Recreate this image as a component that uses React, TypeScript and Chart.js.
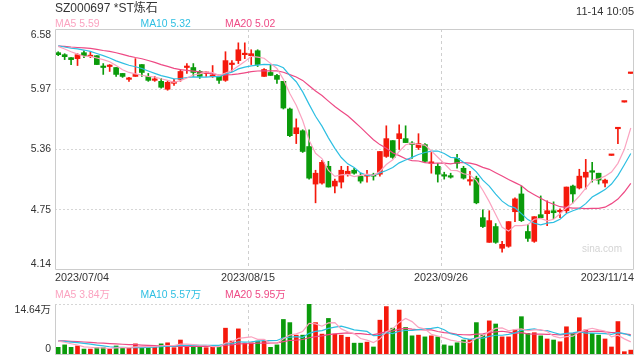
import React, { useEffect, useRef } from 'react';
import { Chart, registerables } from 'chart.js';

Chart.register(...registerables);

// ---- data ----
const dateLabels = ['2023/07/04', '2023/08/15', '2023/09/26', '2023/11/14'];

const opens = [
  6.34, 6.32, 6.29, 6.28, 6.34, 6.30, 6.31, 6.20, 6.20, 6.19,
  6.13, 6.07, 6.10, 6.22, 6.10, 6.06, 6.05, 5.97, 6.03, 6.07,
  6.19, 6.19, 6.15, 6.13, 6.10, 6.10, 6.06, 6.22, 6.26, 6.32,
  6.31, 6.36, 6.10, 6.14, 6.11, 6.05, 5.77, 5.52, 5.55, 5.39,
  5.01, 5.02, 5.19, 4.99, 5.03, 5.11, 5.15, 5.09, 5.09, 5.10,
  5.11, 5.29, 5.45, 5.47, 5.47, 5.42, 5.38, 5.41, 5.22, 5.19,
  5.10, 5.09, 5.27, 5.17, 5.04, 5.07, 4.67, 4.42, 4.58, 4.36,
  4.38, 4.73, 4.91, 4.53, 4.43, 4.70, 4.71, 4.74, 4.73, 4.74,
  4.99, 4.97, 5.08, 5.14, 5.12, 5.02, 5.30, 5.57, 5.84, 6.13,
];
const highs = [
  6.35, 6.33, 6.29, 6.33, 6.36, 6.35, 6.31, 6.23, 6.22, 6.19,
  6.13, 6.09, 6.28, 6.22, 6.13, 6.10, 6.08, 6.05, 6.07, 6.17,
  6.23, 6.23, 6.16, 6.15, 6.21, 6.10, 6.35, 6.26, 6.44, 6.44,
  6.37, 6.37, 6.18, 6.22, 6.12, 6.05, 5.78, 5.67, 5.56, 5.56,
  5.15, 5.25, 5.24, 5.06, 5.19, 5.19, 5.17, 5.12, 5.15, 5.12,
  5.34, 5.60, 5.45, 5.61, 5.60, 5.44, 5.52, 5.42, 5.33, 5.22,
  5.13, 5.12, 5.31, 5.19, 5.14, 5.09, 4.75, 4.74, 4.61, 4.43,
  4.63, 4.87, 4.99, 4.60, 4.68, 4.89, 4.84, 4.83, 4.76, 4.98,
  5.00, 5.16, 5.26, 5.23, 5.12, 5.06, 5.30, 5.57, 5.84, 6.13,
];
const lows = [
  6.31, 6.27, 6.22, 6.21, 6.29, 6.29, 6.22, 6.12, 6.15, 6.10,
  6.09, 6.05, 6.10, 6.10, 6.05, 6.05, 5.98, 5.96, 6.01, 6.05,
  6.13, 6.10, 6.08, 6.10, 6.09, 6.03, 6.05, 6.15, 6.23, 6.28,
  6.22, 6.20, 6.10, 6.11, 6.03, 5.77, 5.49, 5.42, 5.33, 5.06,
  4.82, 5.01, 4.98, 4.92, 4.97, 5.09, 5.11, 5.02, 5.03, 5.05,
  5.09, 5.28, 5.27, 5.36, 5.43, 5.27, 5.36, 5.23, 5.12, 5.03,
  5.06, 5.07, 5.17, 5.06, 5.00, 4.81, 4.57, 4.42, 4.41, 4.32,
  4.37, 4.63, 4.63, 4.43, 4.42, 4.67, 4.59, 4.66, 4.67, 4.72,
  4.82, 4.96, 4.96, 5.03, 5.01, 4.98, 5.30, 5.42, 5.84, 6.13,
];
const closes = [
  6.32, 6.30, 6.27, 6.32, 6.31, 6.31, 6.22, 6.19, 6.21, 6.12,
  6.10, 6.08, 6.12, 6.14, 6.06, 6.07, 5.99, 6.04, 6.04, 6.15,
  6.20, 6.14, 6.10, 6.14, 6.11, 6.06, 6.26, 6.23, 6.37, 6.33,
  6.33, 6.22, 6.17, 6.11, 6.07, 5.78, 5.50, 5.58, 5.34, 5.07,
  5.12, 5.23, 4.98, 5.04, 5.15, 5.14, 5.12, 5.04, 5.10, 5.09,
  5.34, 5.47, 5.28, 5.52, 5.43, 5.41, 5.42, 5.24, 5.23, 5.11,
  5.09, 5.08, 5.22, 5.07, 5.05, 4.82, 4.58, 4.64, 4.42, 4.40,
  4.63, 4.86, 4.64, 4.46, 4.68, 4.67, 4.74, 4.72, 4.74, 4.98,
  4.91, 5.09, 5.13, 5.13, 5.05, 5.05, 5.30, 5.57, 5.84, 6.13,
];
// volume in 万 (10k shares)
const volumes = [
  2.2, 2.9, 2.2, 2.6, 1.7, 1.7, 2.1, 2.1, 1.7, 2.6,
  2.1, 2.1, 3.2, 2.1, 2.4, 2.4, 3.2, 3.5, 2.1, 4.3,
  2.6, 2.4, 2.6, 2.1, 2.4, 2.4, 7.7, 4.0, 7.5, 3.4,
  3.5, 4.0, 4.0, 2.2, 2.9, 10.2, 9.3, 5.7, 5.7, 14.64,
  9.3, 6.0, 10.5, 6.0, 5.7, 5.1, 3.4, 3.4, 3.7, 2.3,
  10.0, 13.9, 7.7, 12.9, 7.9, 5.5, 5.7, 5.2, 5.5, 5.2,
  2.9, 2.6, 3.5, 4.3, 4.5, 9.3, 5.7, 9.8, 8.9, 5.2,
  5.2, 7.2, 11.0, 6.2, 6.4, 5.5, 4.6, 4.3, 3.8, 8.1,
  6.2, 10.7, 7.2, 6.2, 5.7, 4.6, 2.3, 9.6, 0.95, 1.4,
];
// the 19 sessions before 2023/07/04 (estimated from where the MA lines start)
const preCloses = [6.38, 6.40, 6.42, 6.39, 6.41, 6.43, 6.40, 6.38, 6.41, 6.44, 6.42, 6.40, 6.39, 6.42, 6.45, 6.43, 6.41, 6.44, 6.42];
const preVolumes = [3.8, 4.2, 4.5, 3.9, 4.1, 4.6, 3.7, 4.0, 4.3, 4.4, 3.9, 4.1, 4.2, 3.8, 4.0, 4.6, 4.3, 4.5, 4.4];

const priceTicks = [4.14, 4.75, 5.36, 5.97, 6.58];
const volumeTicks = [0, 14.64];

const titleText = 'SZ000697 *ST炼石';
const timeText = '11-14 10:05';
const priceLegend = ['MA5 5.59', 'MA10 5.32', 'MA20 5.02'];
const volumeLegend = ['MA5 3.84万', 'MA10 5.57万', 'MA20 5.95万'];

// ---- styles ----
const RED = '#f5190c';
const GREEN = '#0b9b0b';
const MA_COLORS = ['#fba3c0', '#2ebfe2', '#ee4a85'];
const MA_PERIODS = [5, 10, 20];
const FONT = "Arial, 'Liberation Sans', 'Noto Sans CJK SC', sans-serif";
const TEXT = '#333333';

function movingAverage(series: number[], pre: number[], n: number): number[] {
  const all = pre.concat(series);
  const off = pre.length;
  return series.map((_, i) => {
    let s = 0;
    for (let k = 0; k < n; k++) s += all[off + i - k];
    return s / n;
  });
}

function makeFrame(ticks: number[], suffix: string, decimals: number, drawTop: boolean) {
  return {
    id: 'frame',
    afterDraw(chart: any) {
      const { ctx, chartArea: a, scales } = chart;
      const y = scales.y;
      ctx.save();
      ctx.strokeStyle = '#cccccc';
      ctx.lineWidth = 1;
      ctx.setLineDash([]);
      const L = Math.round(a.left) + 0.5;
      const R = Math.round(a.right) - 0.5;
      const T = Math.round(a.top) + 0.5;
      const B = Math.round(a.bottom) - 0.5;
      ctx.beginPath();
      ctx.moveTo(L, T); ctx.lineTo(L, B); ctx.lineTo(R, B); ctx.lineTo(R, T);
      if (drawTop) ctx.lineTo(L, T);
      ctx.stroke();
      ctx.fillStyle = TEXT;
      ctx.font = `10.4px ${FONT}`;
      ctx.textAlign = 'right';
      const last = ticks.length - 1;
      ticks.forEach((v, i) => {
        const py = y.getPixelForValue(v);
        let yy = py;
        if (i === 0) { ctx.textBaseline = 'bottom'; yy = py - 1; }
        else if (i === last) { ctx.textBaseline = 'top'; yy = py + 1; }
        else ctx.textBaseline = 'middle';
        const label = (v === 0 ? '0' : v.toFixed(decimals)) + (v === 0 ? '' : suffix);
        ctx.fillText(label, a.left - 4, yy);
      });
      ctx.restore();
    },
  };
}

export default function App() {
  const priceRef = useRef<HTMLCanvasElement>(null);
  const volRef = useRef<HTMLCanvasElement>(null);

  useEffect(() => {
    document.body.style.margin = '0';
    const n = closes.length;
    const idx = closes.map((_, i) => i);
    const colors = idx.map((i) => (closes[i] >= opens[i] ? RED : GREEN));
    const xTickValues = [0, 1, 2, 3].map((k) => (k * n) / 3 - 0.5);

    const xScale = (showLabels: boolean, height: number) => ({
      type: 'linear' as const,
      min: -0.5,
      max: n - 0.5,
      offset: false,
      bounds: 'ticks' as const,
      afterBuildTicks: (s: any) => {
        s.ticks = xTickValues.map((v) => ({ value: v }));
      },
      afterFit: (s: any) => {
        s.height = height;
      },
      ticks: {
        display: showLabels,
        autoSkip: false,
        maxRotation: 0,
        align: 'inner' as const,
        padding: 2,
        color: TEXT,
        font: { family: FONT, size: 10.8 },
        callback: (_v: any, i: number) => dateLabels[i],
      },
      grid: {
        offset: false,
        drawTicks: false,
        lineWidth: 1,
        color: (c: any) => (c.index > 0 && c.index < 3 ? '#cfcfcf' : 'rgba(0,0,0,0)'),
      },
      border: { display: false, dash: [3, 3] },
    });

    const yScale = (ticks: number[]) => ({
      min: ticks[0],
      max: ticks[ticks.length - 1],
      afterBuildTicks: (s: any) => {
        s.ticks = ticks.map((v) => ({ value: v }));
      },
      afterFit: (s: any) => {
        s.width = 55;
      },
      ticks: { display: false },
      grid: {
        drawTicks: false,
        lineWidth: 1,
        color: (c: any) => (c.index > 0 ? '#d6d6d6' : 'rgba(0,0,0,0)'),
      },
      border: { display: false, dash: [2, 2] },
    });

    const maLines = (series: number[], pre: number[]) =>
      MA_PERIODS.map((p, k) => {
        const ma = movingAverage(series, pre, p);
        return {
          type: 'line' as const,
          data: idx.map((i) => ({ x: i, y: ma[i] })),
          borderColor: MA_COLORS[k],
          borderWidth: 1.2,
          pointRadius: 0,
          tension: 0,
          fill: false,
        };
      });

    const priceChart = new Chart(priceRef.current as HTMLCanvasElement, {
      type: 'bar',
      data: {
        datasets: [
          ...maLines(closes, preCloses),
          {
            type: 'bar',
            data: idx.map((i) => ({ x: i, y: [opens[i], closes[i]] })),
            backgroundColor: colors,
            barThickness: 5,
            grouped: false,
            minBarLength: 1.5,
            borderWidth: 0,
          },
          {
            type: 'bar',
            data: idx.map((i) => ({ x: i, y: [lows[i], highs[i]] })),
            backgroundColor: colors,
            barThickness: 1,
            grouped: false,
            borderWidth: 0,
          },
        ] as any,
      },
      options: {
        responsive: false,
        animation: false,
        devicePixelRatio: 1,
        layout: { padding: { top: 29, right: 6, left: 0, bottom: 0 } },
        plugins: { legend: { display: false }, tooltip: { enabled: false } },
        scales: {
          x: xScale(true, 20),
          y: (() => {
            const y: any = yScale(priceTicks);
            y.grid.color = (c: any) =>
              c.index > 0 && c.index < priceTicks.length - 1 ? '#d6d6d6' : 'rgba(0,0,0,0)';
            return y;
          })(),
        } as any,
      },
      plugins: [makeFrame(priceTicks, '', 2, true)],
    });

    const volChart = new Chart(volRef.current as HTMLCanvasElement, {
      type: 'bar',
      data: {
        datasets: [
          ...maLines(volumes, preVolumes),
          {
            type: 'bar',
            data: idx.map((i) => ({ x: i, y: volumes[i] })),
            backgroundColor: colors,
            barThickness: 4,
            grouped: false,
            borderWidth: 0,
          },
        ] as any,
      },
      options: {
        responsive: false,
        animation: false,
        devicePixelRatio: 1,
        layout: { padding: { top: 20, right: 6, left: 0, bottom: 0 } },
        plugins: { legend: { display: false }, tooltip: { enabled: false } },
        scales: {
          x: xScale(false, 5),
          y: yScale(volumeTicks),
        } as any,
      },
      plugins: [makeFrame(volumeTicks, '万', 2, false)],
    });

    return () => {
      priceChart.destroy();
      volChart.destroy();
    };
  }, []);

  const legendRow = (items: string[], top: number) =>
    items.map((t, k) => (
      <div
        key={t}
        style={{
          position: 'absolute',
          left: [55, 140.5, 225][k],
          top,
          fontSize: 10.4,
          lineHeight: '14px',
          color: MA_COLORS[k],
          whiteSpace: 'nowrap',
        }}
      >
        {t}
      </div>
    ));

  return (
    <div
      style={{
        position: 'relative',
        width: 640,
        height: 360,
        overflow: 'hidden',
        background: '#ffffff',
        fontFamily: FONT,
      }}
    >
      <canvas ref={priceRef} width={640} height={290} style={{ position: 'absolute', left: 0, top: 0 }} />
      <canvas ref={volRef} width={640} height={76} style={{ position: 'absolute', left: 0, top: 284 }} />
      <div style={{ position: 'absolute', left: 55, top: 0, fontSize: 12, lineHeight: '16px', color: TEXT, whiteSpace: 'nowrap' }}>
        {titleText}
      </div>
      <div style={{ position: 'absolute', right: 6, top: 4, fontSize: 11, lineHeight: '14px', color: TEXT, whiteSpace: 'nowrap' }}>
        {timeText}
      </div>
      {legendRow(priceLegend, 17)}
      {legendRow(volumeLegend, 288)}
      <div style={{ position: 'absolute', left: 582, top: 243, fontSize: 10, lineHeight: '12px', color: '#d4d4d4', whiteSpace: 'nowrap' }}>
        sina.com
      </div>
    </div>
  );
}
